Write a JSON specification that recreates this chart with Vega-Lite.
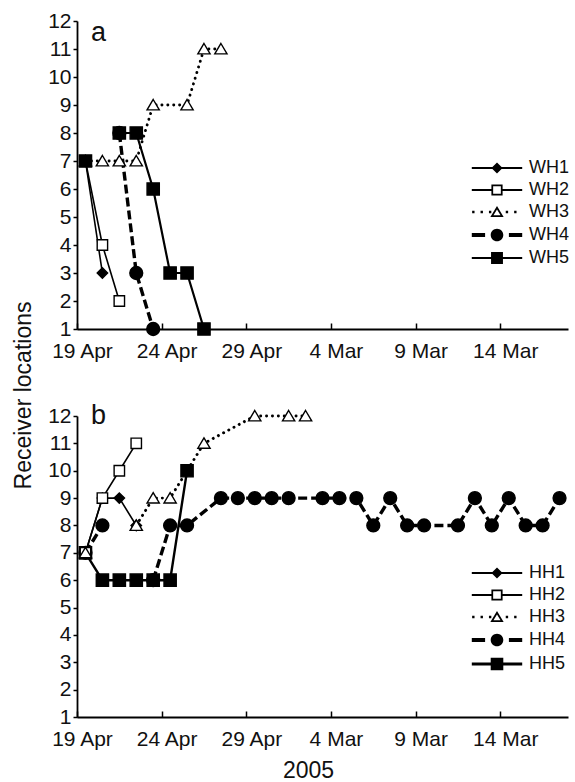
{
  "$schema": "https://vega.github.io/schema/vega-lite/v6.json",
  "padding": {"left": 12, "top": 10, "right": 0, "bottom": 0},
  "bounds": "flush",
  "spacing": 87,
  "config": {
    "view": {"stroke": null},
    "font": "Liberation Sans",
    "axis": {"grid": false, "labelOverlap": false, "domainColor": "black", "domainWidth": 1.8, "tickColor": "black", "tickWidth": 1.5, "labelColor": "#111111", "labelFont": "Liberation Sans", "labelFontSize": 21, "titleColor": "#111111", "titleFont": "Liberation Sans", "titleFontWeight": "normal", "titleFontSize": 23},
    "axisY": {"labelOverlap": false},
    "legend": {"labelFont": "Liberation Sans", "labelColor": "#111111", "labelFontSize": 18}
  },
  "datasets": {
    "a": [
      {"s": "WH1", "d": 0, "v": 7}, {"s": "WH1", "d": 1, "v": 3},
      {"s": "WH2", "d": 0, "v": 7}, {"s": "WH2", "d": 1, "v": 4}, {"s": "WH2", "d": 2, "v": 2},
      {"s": "WH3", "d": 0, "v": 7}, {"s": "WH3", "d": 1, "v": 7}, {"s": "WH3", "d": 2, "v": 7}, {"s": "WH3", "d": 3, "v": 7}, {"s": "WH3", "d": 4, "v": 9}, {"s": "WH3", "d": 6, "v": 9}, {"s": "WH3", "d": 7, "v": 11}, {"s": "WH3", "d": 8, "v": 11},
      {"s": "WH4", "d": 2, "v": 8}, {"s": "WH4", "d": 3, "v": 3}, {"s": "WH4", "d": 4, "v": 1},
      {"s": "WH5", "d": 0, "v": 7}, {"s": "WH5", "d": 1, "v": null}, {"s": "WH5", "d": 2, "v": 8}, {"s": "WH5", "d": 3, "v": 8}, {"s": "WH5", "d": 4, "v": 6}, {"s": "WH5", "d": 5, "v": 3}, {"s": "WH5", "d": 6, "v": 3}, {"s": "WH5", "d": 7, "v": 1}
    ],
    "b": [
      {"s": "HH4", "d": 0, "v": 7}, {"s": "HH4", "d": 1, "v": 8}, {"s": "HH4", "d": 2, "v": null}, {"s": "HH4", "d": 4, "v": 6}, {"s": "HH4", "d": 5, "v": 8}, {"s": "HH4", "d": 6, "v": 8}, {"s": "HH4", "d": 8, "v": 9}, {"s": "HH4", "d": 9, "v": 9}, {"s": "HH4", "d": 10, "v": 9}, {"s": "HH4", "d": 11, "v": 9}, {"s": "HH4", "d": 12, "v": 9}, {"s": "HH4", "d": 14, "v": 9}, {"s": "HH4", "d": 15, "v": 9}, {"s": "HH4", "d": 16, "v": 9}, {"s": "HH4", "d": 17, "v": 8}, {"s": "HH4", "d": 18, "v": 9}, {"s": "HH4", "d": 19, "v": 8}, {"s": "HH4", "d": 20, "v": 8}, {"s": "HH4", "d": 22, "v": 8}, {"s": "HH4", "d": 23, "v": 9}, {"s": "HH4", "d": 24, "v": 8}, {"s": "HH4", "d": 25, "v": 9}, {"s": "HH4", "d": 26, "v": 8}, {"s": "HH4", "d": 27, "v": 8}, {"s": "HH4", "d": 28, "v": 9},
      {"s": "HH5", "d": 0, "v": 7}, {"s": "HH5", "d": 1, "v": 6}, {"s": "HH5", "d": 2, "v": 6}, {"s": "HH5", "d": 3, "v": 6}, {"s": "HH5", "d": 4, "v": 6}, {"s": "HH5", "d": 5, "v": 6}, {"s": "HH5", "d": 6, "v": 10},
      {"s": "HH1", "d": 0, "v": 7}, {"s": "HH1", "d": 1, "v": 9}, {"s": "HH1", "d": 2, "v": 9}, {"s": "HH1", "d": 3, "v": 8},
      {"s": "HH2", "d": 0, "v": 7}, {"s": "HH2", "d": 1, "v": 9}, {"s": "HH2", "d": 2, "v": 10}, {"s": "HH2", "d": 3, "v": 11},
      {"s": "HH3", "d": 0, "v": 7}, {"s": "HH3", "d": 1, "v": null}, {"s": "HH3", "d": 3, "v": 8}, {"s": "HH3", "d": 4, "v": 9}, {"s": "HH3", "d": 5, "v": 9}, {"s": "HH3", "d": 7, "v": 11}, {"s": "HH3", "d": 10, "v": 12}, {"s": "HH3", "d": 12, "v": 12}, {"s": "HH3", "d": 13, "v": 12}
    ],
    "la": [{"t": "a"}],
    "lb": [{"t": "b"}]
  },
  "resolve": {"scale": {"x": "independent", "y": "independent", "shape": "independent", "fill": "independent"}, "legend": {"shape": "independent", "fill": "independent"}},
  "vconcat": [
    {
      "width": 491, "height": 308,
      "resolve": {"scale": {"shape": "independent", "fill": "independent"}},
      "layer": [
        {
          "data": {"name": "a"},
          "transform": [{"filter": {"field": "s", "oneOf": ["WH1", "WH2"]}}],
          "mark": {"type": "line", "color": "black", "strokeWidth": 1.6, "invalid": "break-paths-filter-domains"},
          "encoding": {
            "x": {"field": "d", "type": "quantitative", "scale": {"domain": [-0.5, 28.5], "nice": false, "zero": false},
              "axis": {"values": [-0.5, 4.5, 9.5, 14.5, 19.5, 24.5], "labelExpr": "['19 Apr','24 Apr','29 Apr','4 Mar','9 Mar','14 Mar'][round((datum.value+0.5)/5)]", "tickSize": -6, "labelPadding": 17, "labelOffset": 5, "labelFlush": false, "labelOverlap": false, "title": null}},
            "y": {"field": "v", "type": "quantitative", "scale": {"domain": [1, 12], "nice": false, "zero": false},
              "axis": {"values": [1,2,3,4,5,6,7,8,9,10,11,12], "tickCount": 12, "tickSize": 4, "labelPadding": 2, "labelOverlap": false, "title": "Receiver locations", "titleX": -47, "titleY": 374, "titleAngle": 270, "titleAlign": "center", "titleBaseline": "alphabetic"}},
            "detail": {"field": "s"}
          }
        },
        {
          "data": {"name": "a"},
          "transform": [{"filter": {"field": "s", "oneOf": ["WH5"]}}],
          "mark": {"type": "line", "color": "black", "strokeWidth": 2.2, "invalid": "break-paths-filter-domains"},
          "encoding": {"x": {"field": "d", "type": "quantitative"}, "y": {"field": "v", "type": "quantitative"}, "detail": {"field": "s"}}
        },
        {
          "data": {"name": "a"},
          "transform": [{"filter": {"field": "s", "oneOf": ["WH3"]}}],
          "mark": {"type": "line", "color": "black", "strokeWidth": 2.9, "strokeCap": "round", "strokeDash": [0.1, 5.8], "invalid": "break-paths-filter-domains"},
          "encoding": {"x": {"field": "d", "type": "quantitative"}, "y": {"field": "v", "type": "quantitative"}, "detail": {"field": "s"}}
        },
        {
          "data": {"name": "a"},
          "transform": [{"filter": {"field": "s", "oneOf": ["WH4"]}}],
          "mark": {"type": "line", "color": "black", "strokeWidth": 3.4, "strokeDash": [9, 4], "invalid": "break-paths-filter-domains"},
          "encoding": {"x": {"field": "d", "type": "quantitative"}, "y": {"field": "v", "type": "quantitative"}, "detail": {"field": "s"}}
        },
        {
          "data": {"name": "a"},
          "mark": {"type": "point", "stroke": "black", "strokeWidth": 1.4, "opacity": 1, "size": 150},
          "encoding": {
            "x": {"field": "d", "type": "quantitative"}, "y": {"field": "v", "type": "quantitative"},
            "shape": {"field": "s", "type": "nominal", "legend": null, "scale": {"domain": ["WH1", "WH2", "WH3", "WH4", "WH5"], "range": ["M0,-0.85L0.85,0L0,0.85L-0.85,0Z", "M-0.85,-0.85H0.85V0.85H-0.85Z", "M0,-0.9L1,0.8L-1,0.8Z", "M-1.05,0A1.05,1.05,0,1,0,1.05,0A1.05,1.05,0,1,0,-1.05,0Z", "M-1,-1H1V1H-1Z"]}},
            "fill": {"field": "s", "type": "nominal", "legend": null, "scale": {"domain": ["WH1", "WH2", "WH3", "WH4", "WH5"], "range": ["black", "white", "white", "black", "black"]}}
          }
        },
        {
          "data": {"name": "a"},
          "mark": {"type": "point", "filled": true, "color": "black", "opacity": 1, "size": 0},
          "encoding": {
            "x": {"field": "d", "type": "quantitative"}, "y": {"field": "v", "type": "quantitative"},
            "shape": {"field": "s", "type": "nominal", "scale": {"domain": ["WH1", "WH2", "WH3", "WH4", "WH5"], "range": [
              "M-3.6,-0.14H3.6V0.14H-3.6ZM0,-0.8L0.8,0L0,0.8L-0.8,0Z",
              "M-3.6,-0.14H-0.8V0.14H-3.6ZM0.8,-0.14H3.6V0.14H0.8ZM-0.8,-0.8H0.8V0.8H-0.8ZM-0.55,-0.55V0.55H0.55V-0.55Z",
              "M-3.55,-0.17h0.34v0.34h-0.34ZM-2.35,-0.17h0.34v0.34h-0.34ZM-1.15,-0.17h0.34v0.34h-0.34ZM1.25,-0.17h0.34v0.34h-0.34ZM2.45,-0.17h0.34v0.34h-0.34ZM0,-0.85L0.95,0.7L-0.95,0.7ZM0,-0.37L-0.5,0.45L0.5,0.45Z",
              "M-3.6,-0.28H-1.7V0.28H-3.6ZM1.7,-0.28H3.6V0.28H1.7ZM-0.9,0A0.9,0.9,0,1,1,0.9,0A0.9,0.9,0,1,1,-0.9,0Z",
              "M-3.6,-0.14H3.6V0.14H-3.6ZM-0.85,-0.85H0.85V0.85H-0.85Z"]},
              "legend": {"orient": "none", "legendX": 411, "legendY": 138, "title": null, "symbolSize": 196, "labelFontSize": 18, "labelOffset": 23, "rowPadding": 4, "padding": 0}}
          }
        },
        {
          "data": {"name": "la"},
          "mark": {"type": "text", "align": "left", "baseline": "alphabetic", "fontSize": 27, "color": "#111111", "font": "Liberation Sans"},
          "encoding": {"x": {"datum": 0.32, "type": "quantitative"}, "y": {"datum": 11.29, "type": "quantitative"}, "text": {"field": "t"}}
        }
      ]
    },
    {
      "width": 491, "height": 301,
      "resolve": {"scale": {"shape": "independent", "fill": "independent"}},
      "layer": [
        {
          "data": {"name": "b"},
          "transform": [{"filter": {"field": "s", "oneOf": ["HH1", "HH2"]}}],
          "mark": {"type": "line", "color": "black", "strokeWidth": 1.6, "invalid": "break-paths-filter-domains"},
          "encoding": {
            "x": {"field": "d", "type": "quantitative", "scale": {"domain": [-0.5, 28.5], "nice": false, "zero": false},
              "axis": {"values": [-0.5, 4.5, 9.5, 14.5, 19.5, 24.5], "labelExpr": "['19 Apr','24 Apr','29 Apr','4 Mar','9 Mar','14 Mar'][round((datum.value+0.5)/5)]", "tickSize": -6, "labelPadding": 17, "labelOffset": 5, "labelFlush": false, "labelOverlap": false, "title": "2005", "titleX": 231, "titleY": 60, "titleAlign": "center", "titleBaseline": "alphabetic"}},
            "y": {"field": "v", "type": "quantitative", "scale": {"domain": [1, 12], "nice": false, "zero": false},
              "axis": {"values": [1,2,3,4,5,6,7,8,9,10,11,12], "tickCount": 12, "tickSize": 4, "labelPadding": 2, "labelOverlap": false, "title": null}},
            "detail": {"field": "s"}
          }
        },
        {
          "data": {"name": "b"},
          "transform": [{"filter": {"field": "s", "oneOf": ["HH5"]}}],
          "mark": {"type": "line", "color": "black", "strokeWidth": 2.4, "invalid": "break-paths-filter-domains"},
          "encoding": {"x": {"field": "d", "type": "quantitative"}, "y": {"field": "v", "type": "quantitative"}, "detail": {"field": "s"}}
        },
        {
          "data": {"name": "b"},
          "transform": [{"filter": {"field": "s", "oneOf": ["HH3"]}}],
          "mark": {"type": "line", "color": "black", "strokeWidth": 2.9, "strokeCap": "round", "strokeDash": [0.1, 5.8], "invalid": "break-paths-filter-domains"},
          "encoding": {"x": {"field": "d", "type": "quantitative"}, "y": {"field": "v", "type": "quantitative"}, "detail": {"field": "s"}}
        },
        {
          "data": {"name": "b"},
          "transform": [{"filter": {"field": "s", "oneOf": ["HH4"]}}],
          "mark": {"type": "line", "color": "black", "strokeWidth": 3.4, "strokeDash": [9, 4], "invalid": "break-paths-filter-domains"},
          "encoding": {"x": {"field": "d", "type": "quantitative"}, "y": {"field": "v", "type": "quantitative"}, "detail": {"field": "s"}}
        },
        {
          "data": {"name": "b"},
          "mark": {"type": "point", "stroke": "black", "strokeWidth": 1.4, "opacity": 1, "size": 150},
          "encoding": {
            "x": {"field": "d", "type": "quantitative"}, "y": {"field": "v", "type": "quantitative"},
            "shape": {"field": "s", "type": "nominal", "legend": null, "scale": {"domain": ["HH1", "HH2", "HH3", "HH4", "HH5"], "range": ["M0,-0.85L0.85,0L0,0.85L-0.85,0Z", "M-0.85,-0.85H0.85V0.85H-0.85Z", "M0,-0.9L1,0.8L-1,0.8Z", "M-1.05,0A1.05,1.05,0,1,0,1.05,0A1.05,1.05,0,1,0,-1.05,0Z", "M-1,-1H1V1H-1Z"]}},
            "fill": {"field": "s", "type": "nominal", "legend": null, "scale": {"domain": ["HH1", "HH2", "HH3", "HH4", "HH5"], "range": ["black", "white", "white", "black", "black"]}}
          }
        },
        {
          "data": {"name": "b"},
          "mark": {"type": "point", "filled": true, "color": "black", "opacity": 1, "size": 0},
          "encoding": {
            "x": {"field": "d", "type": "quantitative"}, "y": {"field": "v", "type": "quantitative"},
            "shape": {"field": "s", "type": "nominal", "scale": {"domain": ["HH1", "HH2", "HH3", "HH4", "HH5"], "range": [
              "M-3.6,-0.14H3.6V0.14H-3.6ZM0,-0.8L0.8,0L0,0.8L-0.8,0Z",
              "M-3.6,-0.14H-0.8V0.14H-3.6ZM0.8,-0.14H3.6V0.14H0.8ZM-0.8,-0.8H0.8V0.8H-0.8ZM-0.55,-0.55V0.55H0.55V-0.55Z",
              "M-3.55,-0.17h0.34v0.34h-0.34ZM-2.35,-0.17h0.34v0.34h-0.34ZM-1.15,-0.17h0.34v0.34h-0.34ZM1.25,-0.17h0.34v0.34h-0.34ZM2.45,-0.17h0.34v0.34h-0.34ZM0,-0.85L0.95,0.7L-0.95,0.7ZM0,-0.37L-0.5,0.45L0.5,0.45Z",
              "M-3.6,-0.28H-1.7V0.28H-3.6ZM1.7,-0.28H3.6V0.28H1.7ZM-0.9,0A0.9,0.9,0,1,1,0.9,0A0.9,0.9,0,1,1,-0.9,0Z",
              "M-3.6,-0.22H3.6V0.22H-3.6ZM-0.9,-0.9H0.9V0.9H-0.9Z"]},
              "legend": {"orient": "none", "legendX": 411, "legendY": 148, "title": null, "symbolSize": 196, "labelFontSize": 18, "labelOffset": 23, "rowPadding": 4, "padding": 0}}
          }
        },
        {
          "data": {"name": "lb"},
          "mark": {"type": "text", "align": "left", "baseline": "alphabetic", "fontSize": 27, "color": "#111111", "font": "Liberation Sans"},
          "encoding": {"x": {"datum": 0.32, "type": "quantitative"}, "y": {"datum": 11.71, "type": "quantitative"}, "text": {"field": "t"}}
        }
      ]
    }
  ]
}
